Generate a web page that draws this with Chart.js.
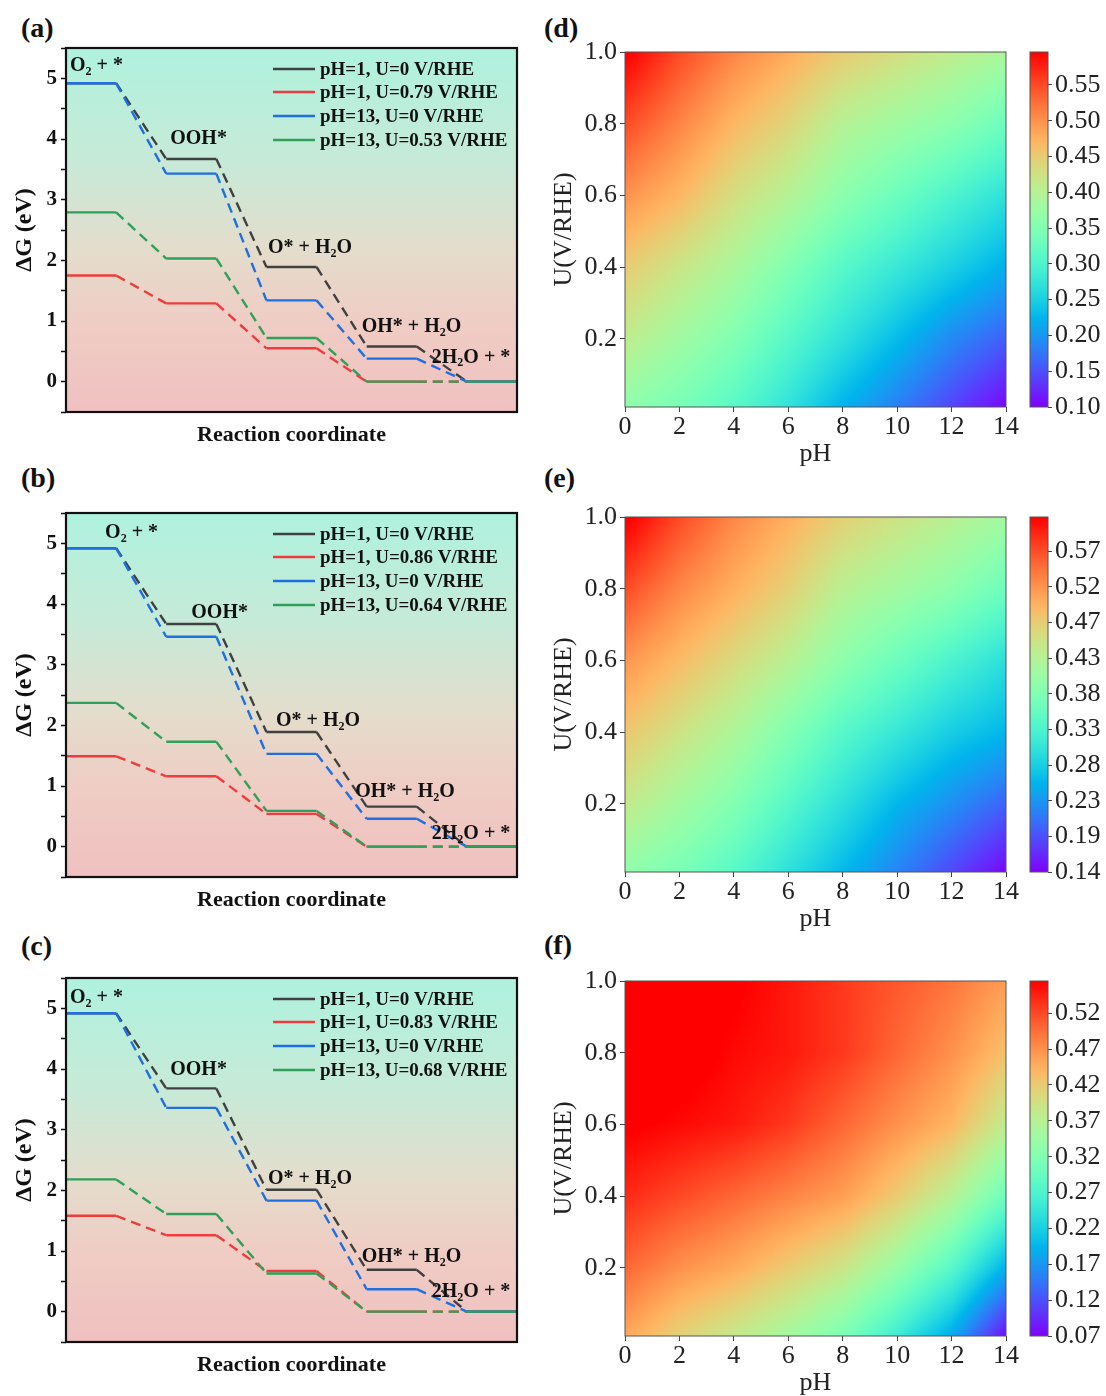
<!DOCTYPE html>
<html>
<head>
<meta charset="utf-8">
<script src="https://cdn.jsdelivr.net/npm/chart.js@4.4.1/dist/chart.umd.min.js"></script>
<style>
  body { margin: 0; background: #fff; width: 1106px; height: 1396px; position: relative; overflow: hidden; }
  canvas { position: absolute; }
  .tag { position: absolute; font: bold 28px "Liberation Serif", "Times New Roman", serif; color: #111; line-height: 28px; }
</style>
</head>
<body>
<div class="tag" style="left:21px;top:14px">(a)</div>
<div class="tag" style="left:21px;top:464px">(b)</div>
<div class="tag" style="left:21px;top:932px">(c)</div>
<div class="tag" style="left:544px;top:14px">(d)</div>
<div class="tag" style="left:544px;top:464px">(e)</div>
<div class="tag" style="left:544px;top:931px">(f)</div>

<canvas id="ga" width="540" height="460" style="left:0;top:0"></canvas>
<canvas id="gb" width="540" height="460" style="left:0;top:465px"></canvas>
<canvas id="gc" width="540" height="460" style="left:0;top:930px"></canvas>
<canvas id="hd" width="480" height="470" style="left:540px;top:0"></canvas>
<canvas id="cd" width="86" height="470" style="left:1020px;top:0"></canvas>
<canvas id="he" width="480" height="470" style="left:540px;top:465px"></canvas>
<canvas id="ce" width="86" height="470" style="left:1020px;top:465px"></canvas>
<canvas id="hf" width="480" height="470" style="left:540px;top:929px"></canvas>
<canvas id="cf" width="86" height="470" style="left:1020px;top:929px"></canvas>

<script>
// ---- free energy diagrams: levels for O2+*, OOH*, O*+H2O, OH*+H2O, 2H2O+*
const stepLabels = [
    [['O', 0], ['2', 1], [' + *', 0]],
    [['OOH*', 0]],
    [['O* + H', 0], ['2', 1], ['O', 0]],
    [['OH* + H', 0], ['2', 1], ['O', 0]],
    [['2H', 0], ['2', 1], ['O + *', 0]]
];

const legendA = ['pH=1, U=0 V/RHE', 'pH=1, U=0.79 V/RHE', 'pH=13, U=0 V/RHE', 'pH=13, U=0.53 V/RHE'];
const blackA = [4.92, 3.67, 1.89, 0.58, 0];
const redA = [1.75, 1.29, 0.55, 0, 0];
const blueA = [4.92, 3.43, 1.34, 0.38, 0];
const greenA = [2.79, 2.03, 0.72, 0, 0];

const legendB = ['pH=1, U=0 V/RHE', 'pH=1, U=0.86 V/RHE', 'pH=13, U=0 V/RHE', 'pH=13, U=0.64 V/RHE'];
const blackB = [4.92, 3.67, 1.89, 0.66, 0];
const redB = [1.49, 1.16, 0.54, 0, 0];
const blueB = [4.92, 3.46, 1.53, 0.46, 0];
const greenB = [2.37, 1.73, 0.59, 0, 0];

const legendC = ['pH=1, U=0 V/RHE', 'pH=1, U=0.83 V/RHE', 'pH=13, U=0 V/RHE', 'pH=13, U=0.68 V/RHE'];
const blackC = [4.92, 3.68, 2.01, 0.69, 0];
const redC = [1.58, 1.26, 0.67, 0, 0];
const blueC = [4.92, 3.36, 1.83, 0.37, 0];
const greenC = [2.18, 1.61, 0.63, 0, 0];

// ---- heat maps: value on a pH x U grid (rows go U = 0 -> 1)
const pHGrid = [0, 2, 4, 6, 8, 10, 12, 14];
const uGrid = [0, 0.2, 0.4, 0.6, 0.8, 1.0];
const uTicks = [0.2, 0.4, 0.6, 0.8, 1.0];

const gridD = [
    [0.36, 0.34, 0.31, 0.27, 0.22, 0.18, 0.14, 0.10],
    [0.41, 0.38, 0.35, 0.31, 0.27, 0.23, 0.19, 0.16],
    [0.45, 0.42, 0.39, 0.35, 0.31, 0.28, 0.25, 0.22],
    [0.50, 0.47, 0.43, 0.40, 0.36, 0.33, 0.30, 0.27],
    [0.55, 0.51, 0.47, 0.44, 0.40, 0.38, 0.36, 0.33],
    [0.60, 0.55, 0.51, 0.48, 0.45, 0.43, 0.41, 0.39]
];
const gridE = [
    [0.39, 0.37, 0.34, 0.30, 0.26, 0.22, 0.18, 0.14],
    [0.44, 0.41, 0.38, 0.34, 0.30, 0.26, 0.23, 0.20],
    [0.48, 0.45, 0.42, 0.38, 0.34, 0.31, 0.28, 0.26],
    [0.52, 0.49, 0.46, 0.43, 0.39, 0.36, 0.33, 0.30],
    [0.57, 0.53, 0.50, 0.47, 0.43, 0.41, 0.39, 0.36],
    [0.62, 0.57, 0.53, 0.50, 0.47, 0.45, 0.43, 0.41]
];
const gridF = [
    [0.45, 0.41, 0.38, 0.35, 0.31, 0.25, 0.18, 0.07],
    [0.50, 0.47, 0.45, 0.42, 0.39, 0.34, 0.28, 0.19],
    [0.54, 0.52, 0.50, 0.48, 0.46, 0.42, 0.37, 0.30],
    [0.57, 0.56, 0.55, 0.53, 0.50, 0.47, 0.44, 0.38],
    [0.58, 0.58, 0.56, 0.55, 0.53, 0.50, 0.47, 0.43],
    [0.58, 0.58, 0.57, 0.55, 0.53, 0.51, 0.49, 0.46]
];

const cbarLabelsD = ['0.10', '0.15', '0.20', '0.25', '0.30', '0.35', '0.40', '0.45', '0.50', '0.55'];
const cbarLabelsE = ['0.14', '0.19', '0.23', '0.28', '0.33', '0.38', '0.43', '0.47', '0.52', '0.57'];
const cbarLabelsF = ['0.07', '0.12', '0.17', '0.22', '0.27', '0.32', '0.37', '0.42', '0.47', '0.52'];
// colour limits [low, tick step, high]
const cbarRangeD = [0.10, 0.05, 0.596];
const cbarRangeE = [0.14, 0.0476, 0.614];
const cbarRangeF = [0.07, 0.05, 0.565];

const SERIF = '"Liberation Serif", "Times New Roman", serif';
Chart.defaults.font.family = SERIF;
Chart.defaults.color = '#111';

const lineColors = ['#404040', '#ee3c3c', '#1f6fe0', '#2fa05a'];

// label anchors in data units (x: reaction coordinate 0..9, y: eV)
const labelPosA = [[0.08, 5.2], [2.08, 4.0], [4.03, 2.2], [5.9, 0.91], [7.3, 0.4]];
const labelPosB = [[0.78, 5.17], [2.5, 3.85], [4.19, 2.08], [5.77, 0.91], [7.3, 0.21]];
const labelPosC = [[0.08, 5.17], [2.08, 3.99], [4.03, 2.19], [5.9, 0.91], [7.3, 0.33]];

function levelPoints(vals){
    const pts = [];
    vals.forEach((v, i) => {
        pts.push({x: 2 * i, y: v});
        pts.push({x: 2 * i + 1, y: v});
    });
    return pts;
}

function drawParts(ctx, parts, x, y, size){
    let cx = x;
    parts.forEach(([t, sub]) => {
        const fs = sub ? Math.round(size * 0.62) : size;
        ctx.font = 'bold ' + fs + 'px ' + SERIF;
        ctx.fillText(t, cx, sub ? y + size * 0.3 : y);
        cx += ctx.measureText(t).width;
    });
}

const bgPlugin = {
    id: 'bg',
    beforeDatasetsDraw(chart){
        const {ctx, chartArea: a} = chart;
        const g = ctx.createLinearGradient(0, a.top, 0, a.bottom);
        g.addColorStop(0, '#aef2de');
        g.addColorStop(0.3, '#c6ead8');
        g.addColorStop(0.55, '#e4ddcc');
        g.addColorStop(0.75, '#efcdc4');
        g.addColorStop(1, '#f0c0c0');
        ctx.save();
        ctx.fillStyle = g;
        ctx.fillRect(a.left, a.top, a.right - a.left, a.bottom - a.top);
        ctx.restore();
    }
};

function framePlugin(width, color){
    return {
        id: 'frame',
        afterDraw(chart){
            const {ctx, chartArea: a} = chart;
            ctx.save();
            ctx.strokeStyle = color;
            ctx.lineWidth = width;
            ctx.strokeRect(a.left, a.top, a.right - a.left, a.bottom - a.top);
            ctx.restore();
        }
    };
}

function notesPlugin(labelPos, legend){
    return {
        id: 'notes',
        afterDatasetsDraw(chart){
            const {ctx, chartArea: a, scales} = chart;
            ctx.save();
            ctx.fillStyle = '#111';
            ctx.textBaseline = 'middle';
            ctx.textAlign = 'left';
            stepLabels.forEach((parts, i) => {
                drawParts(ctx, parts, scales.x.getPixelForValue(labelPos[i][0]),
                    scales.y.getPixelForValue(labelPos[i][1]), 20);
            });
            const rows = [21, 44, 68, 92];
            legend.forEach((text, k) => {
                const y = a.top + rows[k];
                ctx.strokeStyle = lineColors[k];
                ctx.lineWidth = 2.6;
                ctx.beginPath();
                ctx.moveTo(a.right - 244, y);
                ctx.lineTo(a.right - 202, y);
                ctx.stroke();
                ctx.fillStyle = '#111';
                ctx.font = 'bold 19px ' + SERIF;
                ctx.fillText(text, a.right - 197, y + 1);
            });
            ctx.restore();
        }
    };
}

function energyChart(id, series, legend, labelPos){
    new Chart(document.getElementById(id), {
        type: 'line',
        data: {
            datasets: series.map((vals, k) => ({
                label: legend[k],
                data: levelPoints(vals),
                borderColor: lineColors[k],
                borderWidth: 2.4,
                pointRadius: 0,
                order: 3 - k,
                borderJoinStyle: 'round',
                segment: {
                    borderDash: c => (c.p0DataIndex % 2 ? [10, 6] : undefined)
                }
            }))
        },
        options: {
            responsive: false,
            animation: false,
            layout: {padding: {top: 48, right: 23, left: 0, bottom: 8}},
            plugins: {legend: {display: false}, tooltip: {enabled: false}},
            scales: {
                x: {
                    type: 'linear', min: 0, max: 9,
                    ticks: {display: false},
                    grid: {display: false},
                    border: {display: false},
                    title: {display: true, text: 'Reaction coordinate', font: {size: 22, weight: 'bold'}, padding: {top: 0, bottom: 3}},
                    afterFit: s => { s.height = 40; }
                },
                y: {
                    min: -0.5, max: 5.5,
                    ticks: {
                        stepSize: 0.5,
                        padding: 4,
                        font: {size: 21, weight: 'bold'},
                        callback: v => (v >= 0 && Math.abs(v - Math.round(v)) < 1e-6 ? Math.round(v) : '')
                    },
                    grid: {drawOnChartArea: false, tickLength: 5, color: '#111', tickWidth: 1.5},
                    border: {display: false},
                    title: {display: true, text: 'ΔG (eV)', font: {size: 24, weight: 'bold'}, padding: {top: 10, bottom: 0}},
                    afterFit: s => { s.width = 66; }
                }
            }
        },
        plugins: [bgPlugin, notesPlugin(labelPos, legend), framePlugin(2.2, '#111')]
    });
}

// matplotlib "rainbow"
function rainbow(t){
    t = Math.min(1, Math.max(0, t));
    const r = Math.min(1, Math.abs(2 * t - 0.5));
    const g = Math.sin(Math.PI * t);
    const b = Math.cos(Math.PI * t / 2);
    return [Math.round(r * 255), Math.round(g * 255), Math.round(b * 255)];
}

function locate(arr, v){
    let i = 0;
    while(i < arr.length - 2 && v > arr[i + 1]) i++;
    const t = Math.min(1, Math.max(0, (v - arr[i]) / (arr[i + 1] - arr[i])));
    return [i, t];
}

function sampleGrid(grid, p, u){
    const [c, tx] = locate(pHGrid, p);
    const [r, ty] = locate(uGrid, u);
    const lo = grid[r][c] * (1 - tx) + grid[r][c + 1] * tx;
    const hi = grid[r + 1][c] * (1 - tx) + grid[r + 1][c + 1] * tx;
    return lo * (1 - ty) + hi * ty;
}

function fieldPlugin(grid, range){
    return {
        id: 'field',
        beforeDatasetsDraw(chart){
            const {ctx, chartArea: a, scales} = chart;
            const w = Math.round(a.right - a.left), h = Math.round(a.bottom - a.top);
            const off = document.createElement('canvas');
            off.width = w; off.height = h;
            const octx = off.getContext('2d');
            const img = octx.createImageData(w, h);
            for(let py = 0; py < h; py++){
                const u = scales.y.getValueForPixel(a.top + py + 0.5);
                for(let px = 0; px < w; px++){
                    const p = scales.x.getValueForPixel(a.left + px + 0.5);
                    const v = sampleGrid(grid, p, u);
                    const [r, g, b] = rainbow((v - range[0]) / (range[2] - range[0]));
                    const k = (py * w + px) * 4;
                    img.data[k] = r; img.data[k + 1] = g; img.data[k + 2] = b; img.data[k + 3] = 255;
                }
            }
            octx.putImageData(img, 0, 0);
            ctx.drawImage(off, a.left, a.top);
        }
    };
}

function heatChart(id, grid, range){
    const pts = [];
    uGrid.forEach((u, r) => pHGrid.forEach((p, c) => pts.push({x: p, y: u, v: grid[r][c]})));
    new Chart(document.getElementById(id), {
        type: 'scatter',
        data: {datasets: [{data: pts, pointRadius: 0}]},
        options: {
            responsive: false,
            animation: false,
            layout: {padding: {top: 52, right: 14, left: 0, bottom: 0}},
            plugins: {legend: {display: false}, tooltip: {enabled: false}},
            scales: {
                x: {
                    min: 0, max: 14,
                    ticks: {stepSize: 2, padding: 0, font: {size: 26}, color: '#222'},
                    grid: {drawOnChartArea: false, tickLength: 5, color: '#444'},
                    border: {display: false},
                    title: {display: true, text: 'pH', font: {size: 26}, color: '#222', padding: {top: 0, bottom: 0}},
                    afterFit: s => { s.height = 63; }
                },
                y: {
                    min: 0.01, max: 1.0,
                    afterBuildTicks: s => { s.ticks = uTicks.map(v => ({value: v})); },
                    ticks: {padding: 3, font: {size: 26}, color: '#222', callback: v => v.toFixed(1)},
                    grid: {drawOnChartArea: false, tickLength: 5, color: '#444'},
                    border: {display: false},
                    title: {display: true, text: 'U(V/RHE)', font: {size: 26}, color: '#222', padding: {top: 9, bottom: 0}},
                    afterFit: s => { s.width = 85; }
                }
            }
        },
        plugins: [fieldPlugin(grid, range), framePlugin(1, '#555')]
    });
}

const barPlugin = {
    id: 'bar',
    beforeDatasetsDraw(chart){
        const {ctx, chartArea: a} = chart;
        const g = ctx.createLinearGradient(0, a.bottom, 0, a.top);
        for(let i = 0; i <= 40; i++){
            const [r, gg, b] = rainbow(i / 40);
            g.addColorStop(i / 40, 'rgb(' + r + ',' + gg + ',' + b + ')');
        }
        ctx.save();
        ctx.fillStyle = g;
        ctx.fillRect(a.left, a.top, a.right - a.left, a.bottom - a.top);
        ctx.restore();
    }
};

function colorbar(id, labels, range){
    const tickVals = labels.map((l, i) => range[0] + i * range[1]);
    new Chart(document.getElementById(id), {
        type: 'scatter',
        data: {datasets: [{data: []}]},
        options: {
            responsive: false,
            animation: false,
            layout: {padding: {top: 52, right: 0, left: 10, bottom: 63}},
            plugins: {legend: {display: false}, tooltip: {enabled: false}},
            scales: {
                x: {display: false, min: 0, max: 1},
                y: {
                    position: 'right',
                    min: range[0], max: range[2],
                    afterBuildTicks: s => { s.ticks = tickVals.map(v => ({value: v})); },
                    ticks: {padding: 3, font: {size: 26}, color: '#222', callback: (v, i) => labels[i]},
                    grid: {drawOnChartArea: false, tickLength: 4, color: '#444'},
                    border: {display: false},
                    afterFit: s => { s.width = 58; }
                }
            }
        },
        plugins: [barPlugin, framePlugin(1, '#555')]
    });
}

energyChart('ga', [blackA, redA, blueA, greenA], legendA, labelPosA);
energyChart('gb', [blackB, redB, blueB, greenB], legendB, labelPosB);
energyChart('gc', [blackC, redC, blueC, greenC], legendC, labelPosC);

heatChart('hd', gridD, cbarRangeD);
heatChart('he', gridE, cbarRangeE);
heatChart('hf', gridF, cbarRangeF);

colorbar('cd', cbarLabelsD, cbarRangeD);
colorbar('ce', cbarLabelsE, cbarRangeE);
colorbar('cf', cbarLabelsF, cbarRangeF);
</script>
</body>
</html>
